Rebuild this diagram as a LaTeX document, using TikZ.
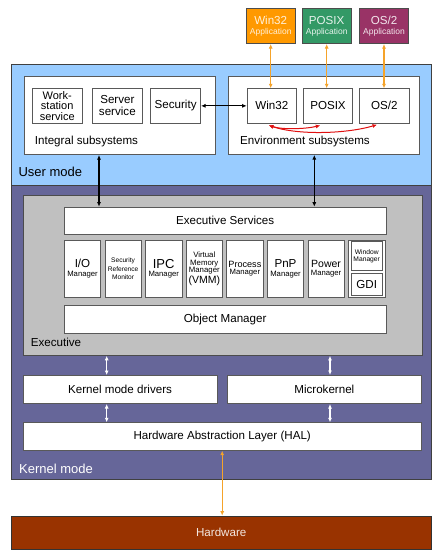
\documentclass[tikz,border=0pt]{standalone}
\usepackage{fontspec}
\setmainfont{Liberation Sans}
\usepackage{tikz}
\usetikzlibrary{positioning}
\usetikzlibrary{arrows.meta}

\definecolor{usercol}{HTML}{99CCFF}
\definecolor{kernelcol}{HTML}{666699}
\definecolor{execcol}{HTML}{C0C0C0}
\definecolor{hwcol}{HTML}{993300}
\definecolor{wincol}{HTML}{FF9900}
\definecolor{posixcol}{HTML}{339966}
\definecolor{oscol}{HTML}{993366}
\definecolor{linkcol}{HTML}{F5A32A}
\definecolor{redcol}{HTML}{E01010}

\newcommand{\fsz}[1]{\fontsize{#1}{#1}\selectfont}

\begin{document}
\begin{tikzpicture}[x=1pt, y=-1pt,
  sz/.style 2 args={minimum width=#1pt, minimum height=#2pt},
  box/.style={draw=gray!70!black, fill=white, line width=0.7pt, inner sep=0pt,
    align=center, anchor=north west, font=\fsz{11.6}},
  region/.style={draw=gray!50!black, line width=0.8pt, inner sep=0pt, anchor=north west},
  app/.style={draw=gray!60!black, line width=0.7pt, inner sep=0pt, align=center,
    anchor=north west, sz={49.3}{35}, font=\fsz{11.6}},
  tag/.style={anchor=west, inner sep=0pt},
  mgr/.style={box, sz={36.3}{56.7}},
  tip/.style={{Latex[length=4.5pt,width=4pt]}-{Latex[length=4.5pt,width=4pt]}, line width=1.1pt},
  ]
  \useasboundingbox (0,0) rectangle (445,560);

  \node[region, fill=usercol, sz={420.3}{120.7}] (user) at (10.7,64.3) {};
  \node[region, fill=kernelcol, sz={420.3}{294.3}] (kernel) at (10.7,185) {};
  \node[tag, font=\fsz{13}] (userlbl) at (18.3,171.7) {User mode};
  \node[tag, font=\fsz{13}, text=white] (kernellbl) at (19,469) {Kernel mode};

  \node[app, fill=wincol, text=white!85!wincol] (winapp) at (245.7,8.3)
    {Win32\\[-1pt]{\fsz{8.5}Application}};
  \node[app, fill=posixcol, text=white!88!posixcol] (posixapp) at (301.7,8.3)
    {POSIX\\[-1pt]{\fsz{8.5}Application}};
  \node[app, fill=oscol, text=white!88!oscol] (osapp) at (359,8.3)
    {OS/2\\[-1pt]{\fsz{8.5}Application}};

  \node[box, sz={190.7}{78.6}] (integral) at (24.3,75.7) {};
  \node[box, sz={191}{78.6}] (env) at (228.3,75.7) {};
  \node[tag, font=\fsz{11.6}] (intlbl) at (34.7,141) {Integral subsystems};
  \node[tag, font=\fsz{11.6}] (envlbl) at (240,141) {Environment subsystems};

  \node[box, sz={49.7}{34.4}, font=\fsz{11}] (work) at (32,88.3) {Work-\\[-0.5pt]station\\[-0.5pt]service};
  \node[box, sz={49.4}{34.4}] (server) at (92.3,88.3) {Server\\[0.7pt]service};
  \node[box, sz={50}{34.4}] (security) at (150.3,88.3) {Security};
  \node[box, sz={49.6}{34.4}] (win32) at (246.7,88.3) {Win32};
  \node[box, sz={49.3}{34.4}] (posix) at (303,88.3) {POSIX};
  \node[box, sz={49.4}{34.4}] (os2) at (359.3,88.3) {OS/2};

  \node[region, fill=execcol, draw=gray!60!black, sz={399}{160}] (exec) at (23.3,195) {};
  \node[tag, font=\fsz{11.6}] (execlbl) at (30.7,342.3) {Executive};
  \node[box, sz={321.7}{27.6}] (services) at (64,206.7) {Executive Services};

  \node[mgr] (io) at (64,240) {I/O\\[-2.6pt]{\fsz{7.7}Manager}};
  \node[mgr, right=3.6pt of io] (srm)
    {{\fsz{6.6}Security}\\[-3.4pt]{\fsz{6.6}Reference}\\[-3.4pt]{\fsz{6.6}Monitor}};
  \node[mgr, right=3.6pt of srm] (ipc) {{\fsz{13}IPC}\\[-3.5pt]{\fsz{7.7}Manager}};
  \node[mgr, right=3.6pt of ipc] (vmm)
    {{\fsz{7.8}Virtual}\\[-3.7pt]{\fsz{7.8}Memory}\\[-3.7pt]{\fsz{7.8}Manager}\\[-0.9pt]{\fsz{10.5}(VMM)}};
  \node[mgr, right=3.6pt of vmm] (process) {{\fsz{9.1}Process}\\[-3.7pt]{\fsz{7.7}Manager}};
  \node[mgr, right=3.6pt of process] (pnp) {PnP\\[-2.4pt]{\fsz{7.7}Manager}};
  \node[mgr, right=3.6pt of pnp] (power) {{\fsz{10.5}Power}\\[-2.9pt]{\fsz{7.7}Manager}};
  \node[mgr, right=3.6pt of power] (wingdi) {};
  \node[box, sz={31.6}{29}, anchor=north, font=\fsz{6.7}] (winmgr) at ([yshift=-1pt]wingdi.north)
    {Window\\[0.2pt]Manager};
  \node[box, sz={31.6}{21.7}, anchor=south] (gdi) at ([yshift=1.7pt]wingdi.south) {GDI};

  \node[box, sz={321.7}{28.6}] (objmgr) at (64,304.7) {Object Manager};

  \node[box, sz={194}{28.3}] (drivers) at (22.7,375) {Kernel mode drivers};
  \node[box, sz={194}{28.3}] (micro) at (227,375) {Microkernel};
  \node[box, sz={398.3}{27.7}] (hal) at (22.7,422.3) {Hardware Abstraction Layer (HAL)};

  \node[region, fill=hwcol, draw=gray!40!black, text=white!88!hwcol, font=\fsz{11.6},
    sz={420.3}{33.3}] (hw) at (10.7,515.7) {Hardware};

  \draw[tip, linkcol] (winapp.south) -- (winapp.south |- win32.north);
  \draw[tip, linkcol] (posixapp.south) -- (posixapp.south |- posix.north);
  \draw[tip, linkcol] (osapp.south) -- (osapp.south |- os2.north);
  \draw[tip, linkcol] (hal.south) -- (hal.south |- hw.north);

  \draw[tip] (security.east) -- (win32.west);
  \draw[tip] (99,0 |- integral.south) -- (99,0 |- services.north);
  \draw[tip] (314.3,0 |- env.south) -- (314.3,0 |- services.north);

  \draw[tip, redcol, line width=1pt] ([shift={(-3,2)}]win32.south)
    .. controls +(14,4.5) and +(-14,3.5) .. ([shift={(-7.7,2)}]posix.south);
  \draw[tip, redcol, line width=1pt] ([shift={(-3,2)}]win32.south)
    .. controls +(30,10) and +(-30,9) .. ([shift={(-7.3,1.3)}]os2.south);

  \draw[tip, white] (106.7,0 |- exec.south) -- (106.7,0 |- drivers.north);
  \draw[tip, white] (330,0 |- exec.south) -- (330,0 |- micro.north);
  \draw[tip, white] (106.7,0 |- drivers.south) -- (106.7,0 |- hal.north);
  \draw[tip, white] (330,0 |- micro.south) -- (330,0 |- hal.north);
\end{tikzpicture}
\end{document}
